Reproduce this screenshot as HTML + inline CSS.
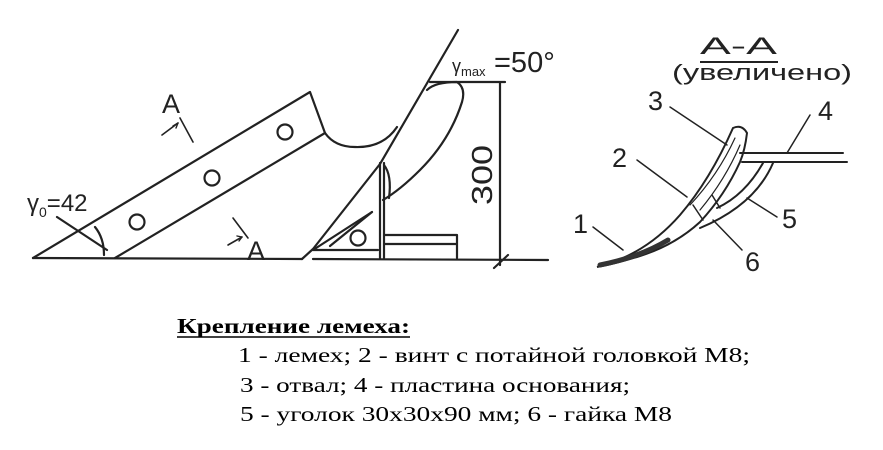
<!DOCTYPE html>
<html><head><meta charset="utf-8"><style>
html,body{margin:0;padding:0;background:#fff;width:883px;height:450px;overflow:hidden}
svg{display:block}
</style></head><body>
<svg width="883" height="450" viewBox="0 0 883 450" xmlns="http://www.w3.org/2000/svg">
<g fill="none" stroke="#222" stroke-width="2.2" stroke-linecap="round" stroke-linejoin="round">
<!-- base line -->
<path d="M33,258 L302,259 M313,259 L548,260"/>
<!-- share -->
<path d="M33,258 L310,92 L325,133 Q335,147 355,147 Q383,148 397,127"/>
<path d="M115,258 L325,133"/>
<!-- moldboard line -->
<path d="M302,259 L313,249 L380,164 L458,30"/>
<!-- oval -->
<path d="M427,90 Q435,82 457,82 Q466,88 462,102 Q450,140 420,170 Q400,190 383,200"/>
<path d="M330,246 L372,212"/>
<!-- bracket -->
<path d="M380,163 L380,258 M384,163 L384,258"/>
<path d="M313,250 L372,212 M313,250 L378,250"/>
<path d="M384,165 Q392,175 389,198"/>
<circle cx="358" cy="238" r="7.5"/>
<path d="M384,235 L457,235 L457,258 M384,244 L457,244"/>
<!-- holes -->
<circle cx="137" cy="222" r="7.5"/>
<circle cx="212" cy="178" r="7.5"/>
<circle cx="285" cy="132" r="7.5"/>
<!-- dimension 300 -->
<path d="M430,82 L505,82 M500,82 L500,265 M494,268 L508,255"/>
<!-- gamma0 marker -->
<path d="M57,217 L107,250 M95,227 Q104,238 104,255"/>
<!-- A arrows -->
<path d="M180,118 L193,142 M162,135 L178,123" stroke-width="1.6"/>
<path d="M173,126 L178,123 L176,128" stroke-width="1.4"/>
<path d="M233,218 L248,238 M228,245 L242,237" stroke-width="1.6"/>
<path d="M237,236 L242,237 L239,241" stroke-width="1.4"/>
</g>
<g font-family="'Liberation Sans',sans-serif" fill="#222">
<text x="162" y="113" font-size="27">A</text>
<text x="247" y="260" font-size="27">A</text>
<text x="27" y="211" font-size="24">γ<tspan font-size="14" dy="6">0</tspan><tspan dy="-6">=42</tspan></text>
<text x="452" y="72" font-size="18">γ<tspan font-size="13" dy="4">max</tspan></text>
<text x="494" y="72" font-size="29">=50°</text>
<text x="0" y="0" font-size="29" transform="translate(492,205) rotate(-90)" textLength="60" lengthAdjust="spacingAndGlyphs">300</text>
<text x="700" y="54" font-size="24" textLength="77" lengthAdjust="spacingAndGlyphs">A-A</text>
<path d="M700,62 L778,62" stroke="#222" stroke-width="2"/>
<text x="672" y="80" font-size="22" textLength="180" lengthAdjust="spacingAndGlyphs">(увеличено)</text>
<text x="648" y="110" font-size="27">3</text>
<text x="818" y="120" font-size="27">4</text>
<text x="612" y="167" font-size="27">2</text>
<text x="782" y="228" font-size="27">5</text>
<text x="573" y="233" font-size="27">1</text>
<text x="745" y="271" font-size="27">6</text>
</g>
<!-- section view -->
<g fill="none" stroke="#222" stroke-width="2" stroke-linecap="round">
<path d="M597,267 Q645,255 680,215 Q710,180 733,128 Q742,124 747,133 Q745,150 740,162 Q725,195 700,222 Q675,245 640,256 Q615,264 597,267Z" fill="#fff"/>
<path d="M600,265 Q640,257 668,240" stroke-width="5" stroke="#333"/>
<path d="M690,205 Q718,175 735,138 M700,210 Q725,180 740,145" stroke-width="1.2"/>
<path d="M740,153 L843,153 M742,162 L847,162"/>
<path d="M773,163 Q755,205 700,228 M763,163 Q745,195 717,208"/>
<path d="M693,205 L703,220 M712,195 L720,208" stroke-width="1.5"/>
<path d="M670,107 L727,145 M810,115 L787,153 M637,160 L687,197 M777,217 L747,198 M593,227 L623,250 M742,250 L713,220" stroke-width="1.5"/>
</g>
<g font-family="'Liberation Serif',serif" fill="#000" font-size="21">
<text x="177" y="333" font-weight="bold" textLength="233" lengthAdjust="spacingAndGlyphs">Крепление лемеха:</text>
<path d="M177,337 L410,337" stroke="#000" stroke-width="1.6"/>
<text x="238" y="362" textLength="512" lengthAdjust="spacingAndGlyphs">1 - лемех; 2 - винт с потайной головкой М8;</text>
<text x="240" y="392" textLength="390" lengthAdjust="spacingAndGlyphs">3 - отвал; 4 - пластина основания;</text>
<text x="240" y="421" textLength="432" lengthAdjust="spacingAndGlyphs">5 - уголок 30х30х90 мм; 6 - гайка М8</text>
</g>
</svg>
</body></html>
